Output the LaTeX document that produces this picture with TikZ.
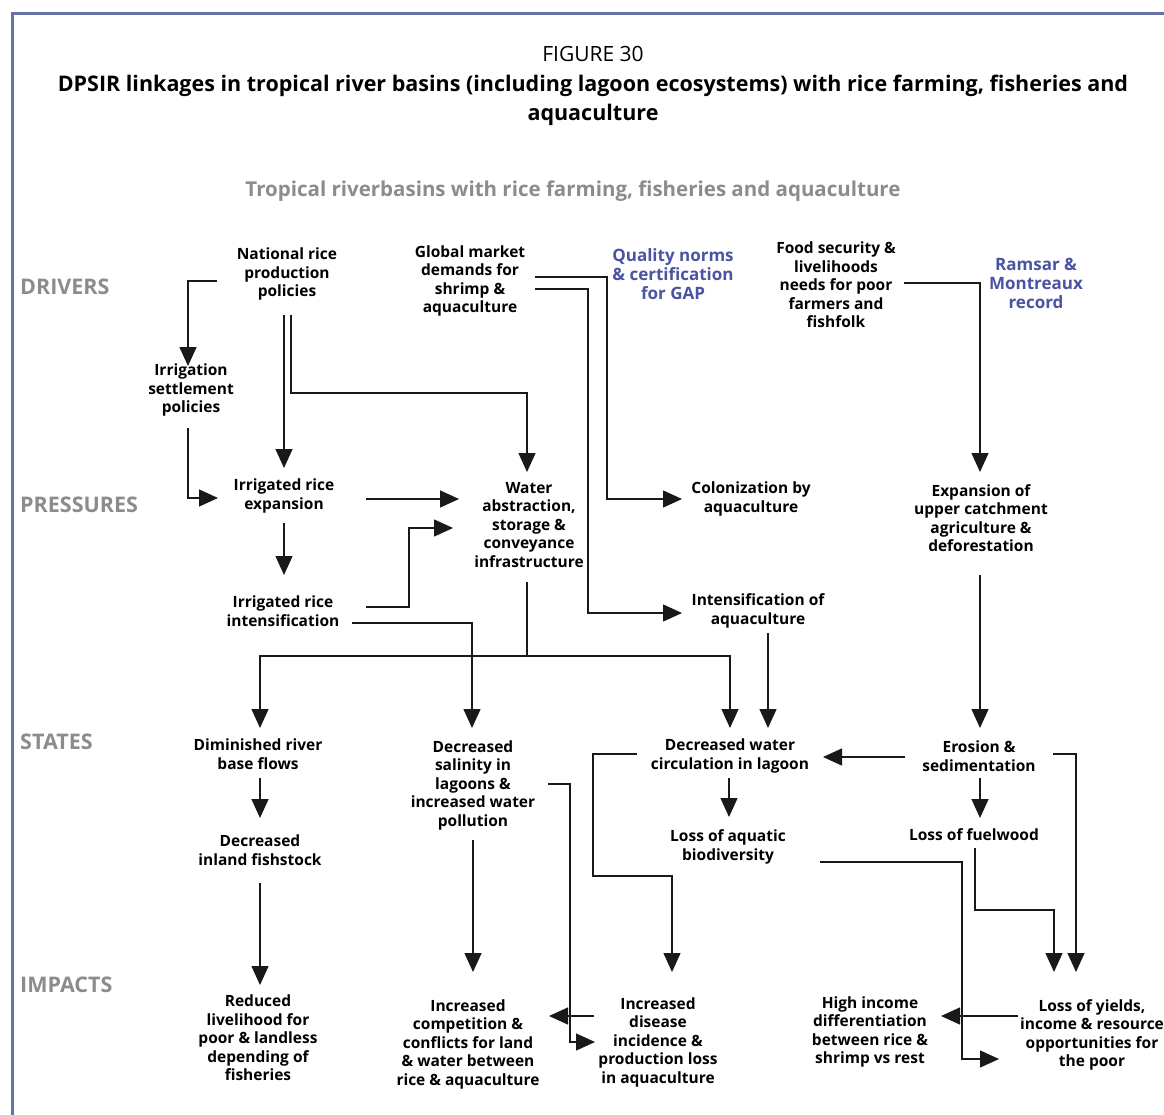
\documentclass[tikz,border=0pt]{standalone}
\usepackage{fontspec}
\setmainfont{Open Sans}
\usetikzlibrary{arrows.meta,calc}
\definecolor{framec}{RGB}{102,114,168}
\definecolor{normblue}{RGB}{74,84,162}
\definecolor{labgray}{RGB}{140,140,140}
\definecolor{linec}{RGB}{25,25,25}
\tikzset{
  txt/.style={font=\bfseries\fontsize{15.5}{18.5}\selectfont, align=center, inner sep=0pt, text=black},
  blu/.style={txt, font=\bfseries\fontsize{17}{19}\selectfont, text=normblue},
  lab/.style={font=\bfseries\fontsize{21.5}{24}\selectfont, text=labgray, anchor=west, inner sep=0pt},
  conn/.style={line width=1.3pt, draw=linec},
  arr/.style={conn, -{Triangle[length=19pt,width=17pt]}},
}
\begin{document}
\begin{tikzpicture}[x=1pt,y=-1pt]
\useasboundingbox (0,0) rectangle (1164,1115);
\fill[white] (0,0) rectangle (1164,1115);
\draw[framec, line width=2.4pt] (12.5,1120) -- (12.5,13.5) -- (1170,13.5);

% titles
\node[font=\fontsize{21}{24}\selectfont, inner sep=0pt] (fig) at (593,54) {FIGURE 30};
\node[font=\bfseries\fontsize{21.5}{29}\selectfont, align=center, inner sep=0pt] (title) at (593,100)
  {DPSIR linkages in tropical river basins (including lagoon ecosystems) with rice farming, fisheries and\\aquaculture};
\node[font=\bfseries\fontsize{20.5}{23}\selectfont, text=labgray, inner sep=0pt] (sub) at (573,191)
  {Tropical riverbasins with rice farming, fisheries and aquaculture};

% row labels
\node[lab] (lD) at (20,287) {DRIVERS};
\node[lab] (lP) at (20,505) {PRESSURES};
\node[lab] (lS) at (20,742) {STATES};
\node[lab] (lI) at (20,985) {IMPACTS};

% nodes
\node[txt] (N1) at (287,274) {National rice\\production\\policies};
\node[txt] (N2) at (470,281) {Global market\\demands for\\shrimp \&\\aquaculture};
\node[blu] (Q) at (673,274) {Quality norms\\\& certification\\for GAP};
\node[txt] (F) at (836,285) {Food security \&\\livelihoods\\needs for poor\\farmers and\\fishfolk};
\node[blu] (R) at (1036,283) {Ramsar \&\\Montreaux\\record};
\node[txt] (IS) at (191,390) {Irrigation\\settlement\\policies};
\node[txt] (IRE) at (284,496) {Irrigated rice\\expansion};
\node[txt] (WA) at (529,525) {Water\\abstraction,\\storage \&\\conveyance\\infrastructure};
\node[txt] (COL) at (751,499) {Colonization by\\aquaculture};
\node[txt] (EXP) at (981,518) {Expansion of\\upper catchment\\agriculture \&\\deforestation};
\node[txt] (IRI) at (283,611) {Irrigated rice\\intensification};
\node[txt] (INT) at (758,611) {Intensification of\\aquaculture};
\node[txt] (DRB) at (258,754) {Diminished river\\base flows};
\node[txt] (DS) at (473,785) {Decreased\\salinity in\\lagoons \&\\increased water\\pollution};
\node[txt] (DWC) at (730,756) {Decreased water\\circulation in lagoon};
\node[txt] (ES) at (979,756) {Erosion \&\\sedimentation};
\node[txt] (LAB) at (728,847) {Loss of aquatic\\biodiversity};
\node[txt] (LF) at (974,835) {Loss of fuelwood};
\node[txt] (DIF) at (260,850) {Decreased\\inland fishstock};
\node[txt] (RL) at (258,1038) {Reduced\\livelihood for\\poor \& landless\\depending of\\fisheries};
\node[txt] (IC) at (468,1044) {Increased\\competition \&\\conflicts for land\\\& water between\\rice \& aquaculture};
\node[txt] (ID) at (658,1042) {Increased\\disease\\incidence \&\\production loss\\in aquaculture};
\node[txt] (HI) at (870,1032) {High income\\differentiation\\between rice \&\\shrimp vs rest};
\node[txt] (LY) at (1092,1035) {Loss of yields,\\income \& resource\\opportunities for\\the poor};

% connectors
\draw[arr] ($(N1)+(-70,7)$) -| ($(IS)+(-3,-24)$);
\draw[arr] ($(N1)+(-3,41)$) -- ($(IRE)+(0,-28)$);
\draw[arr] ($(N1)+(4,41)$) -- ($(N1)+(4,119)$) -| ($(WA)+(-2,-53)$);
\draw[arr] ($(IS)+(-3,38)$) |- ($(IRE)+(-66,2)$);
\draw[arr] ($(IRE)+(82,3)$) -- ($(WA)+(-70,-26)$);
\draw[arr] ($(IRE)+(0,27)$) -- ($(IRI)+(1,-36)$);
\draw[arr] ($(IRI)+(83,-4)$) -| ($(IRI)+(126,-83)$) -- ($(WA)+(-76,3)$);
\draw[arr] ($(IRI)+(69,12)$) -| ($(DS)+(-1,-57)$);
\draw[conn] ($(WA)+(-2,57)$) -- ($(WA)+(-2,131)$);
\draw[arr] ($(WA)+(-2,131)$) -| ($(DRB)+(2,-26)$);
\draw[arr] ($(WA)+(-2,131)$) -| ($(DWC)+(0,-28)$);
\draw[arr] ($(N2)+(65,-4)$) -| ($(COL)+(-144,0)$) -- ($(COL)+(-69,0)$);
\draw[arr] ($(N2)+(65,8)$) -| ($(INT)+(-170,2)$) -- ($(INT)+(-76,2)$);
\draw[arr] ($(INT)+(10,22)$) -- ($(DWC)+(38,-28)$);
\draw[arr] ($(F)+(68,-2)$) -| ($(EXP)+(-1,-46)$);
\draw[arr] ($(EXP)+(-1,57)$) -- ($(ES)+(1,-28)$);
\draw[arr] ($(ES)+(-74,1)$) -- ($(DWC)+(93,1)$);
\draw[arr] ($(ES)+(74,-2)$) -| ($(LY)+(-16,-63)$);
\draw[arr] ($(ES)+(1,22)$) -- ($(LF)+(6,-17)$);
\draw[arr] ($(LF)+(1,13)$) -- ($(LF)+(1,75)$) -| ($(LY)+(-38,-63)$);
\draw[arr] ($(DWC)+(-1,22)$) -- ($(LAB)+(1,-30)$);
\draw[arr] ($(DWC)+(-93,-2)$) -| ($(DWC)+(-137,120)$) -| ($(ID)+(14,-70)$);
\draw[arr] ($(LAB)+(92,15)$) -| ($(LY)+(-130,24)$) -- ($(LY)+(-93,24)$);
\draw[arr] ($(LY)+(-74,-19)$) -- ($(HI)+(71,-16)$);
\draw[arr] ($(DS)+(0,55)$) -- ($(IC)+(5,-72)$);
\draw[arr] ($(DS)+(75,-1)$) -| ($(ID)+(-88,0)$) -- ($(ID)+(-63,0)$);
\draw[arr] ($(ID)+(-64,-26)$) -- ($(IC)+(81,-28)$);
\draw[arr] ($(DRB)+(2,24)$) -- ($(DIF)+(0,-32)$);
\draw[arr] ($(DIF)+(0,33)$) -- ($(RL)+(2,-53)$);
\end{tikzpicture}
\end{document}
